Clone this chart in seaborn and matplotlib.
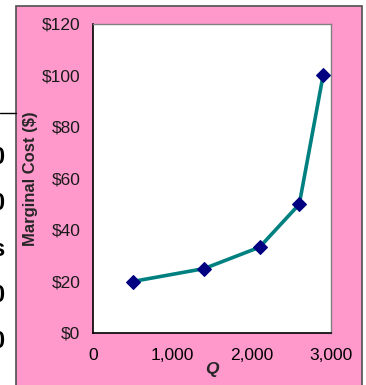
import matplotlib
matplotlib.use("Agg")
import matplotlib.pyplot as plt
from matplotlib.patches import Rectangle
from matplotlib.lines import Line2D
from matplotlib.ticker import FuncFormatter
import seaborn as sns
import pandas as pd

# Marginal cost schedule
quantity = [500, 1400, 2100, 2600, 2900]
marginal_cost = [20, 25, 33.33, 50, 100]

x_ticks = [0, 1000, 2000, 3000]
y_ticks = [0, 20, 40, 60, 80, 100, 120]

df = pd.DataFrame({"Q": quantity, "MC": marginal_cost})

sns.set_theme(style="white")
plt.rcParams["font.family"] = ["Liberation Sans", "DejaVu Sans"]

W, H = 366, 385
fig = plt.figure(figsize=(W / 100, H / 100), dpi=100)
fig.patch.set_facecolor("white")

# pink chart panel with a dark frame
panel = Rectangle((16 / W, -0.05), (362 - 16) / W, 1 - 6 / H + 0.05,
                  transform=fig.transFigure, facecolor="#FF99CC",
                  edgecolor="#505050", linewidth=1.2, zorder=-5)
fig.patches.append(panel)

# fragment of the neighbouring slide content at the left edge
fig.add_artist(Line2D([0, 16 / W], [1 - 113 / H, 1 - 113 / H],
                      transform=fig.transFigure, color="black", linewidth=1))
for ch, yp in zip(["0", "0", "s", "0", "0"], [158, 204, 250, 296, 342]):
    fig.text(4 / W, 1 - yp / H, ch, ha="right", va="center",
             fontsize=17, fontweight="bold", color="black")

ax = fig.add_axes([93 / W, 1 - 333 / H, (331 - 93) / W, (333 - 24) / H])
ax.set_zorder(2)
ax.set_facecolor("white")

sns.lineplot(data=df, x="Q", y="MC", ax=ax, color="#008080", linewidth=2.6,
             marker="D", markersize=7, markerfacecolor="#000080",
             markeredgecolor="#000080", zorder=3)

ax.set_xlim(0, 3000)
ax.set_ylim(0, 120)
ax.set_xticks(x_ticks)
ax.set_yticks(y_ticks)
ax.xaxis.set_major_formatter(FuncFormatter(lambda v, p: f"{int(v):,}"))
ax.yaxis.set_major_formatter(FuncFormatter(lambda v, p: f"${int(v)}"))

for s in ["left", "bottom"]:
    ax.spines[s].set_color("black")
    ax.spines[s].set_linewidth(1.2)
for s in ["top", "right"]:
    ax.spines[s].set_color("#808080")
    ax.spines[s].set_linewidth(1.0)

ax.tick_params(axis="both", direction="out", length=5, width=1,
               labelsize=12.5, labelcolor="#1a1a1a", pad=4)
ax.tick_params(axis="y", colors="#806070", labelcolor="#1a1a1a")
ax.tick_params(axis="x", colors="black", pad=6)

ax.set_xlabel("Q", fontsize=12.5, fontweight="bold", fontstyle="italic",
              labelpad=-1)
ax.set_ylabel("Marginal Cost ($)", fontsize=12, fontweight="bold",
              labelpad=3)

fig.savefig("out.png", dpi=100)
